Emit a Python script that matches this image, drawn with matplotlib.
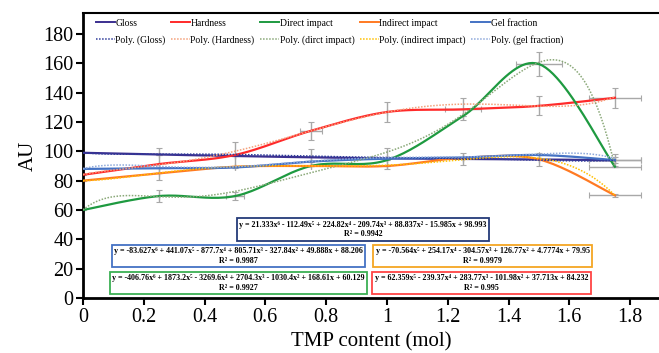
import numpy as np
import matplotlib
matplotlib.use("Agg")
import matplotlib.pyplot as plt
from matplotlib.lines import Line2D

plt.rcParams['font.family'] = ['Liberation Serif', 'DejaVu Serif']

# ---------------- data ----------------
tmp = [0, 0.25, 0.5, 0.75, 1.0, 1.25, 1.5, 1.75]
gloss = [99.0, 97.8, 96.8, 95.9, 95.2, 94.8, 94.5, 93.8]
hardness = [84.0, 91.3, 97.5, 114.0, 126.8, 128.6, 131.0, 136.5]
direct_impact = [60.0, 69.5, 69.5, 90.0, 94.0, 124.0, 159.5, 89.5]
indirect_impact = [80.0, 85.0, 89.5, 90.0, 90.0, 95.5, 94.5, 70.0]
gel_fraction = [88.0, 88.5, 89.0, 93.0, 95.0, 95.8, 97.5, 94.0]

gloss_yerr = [0, 0, 0, 5.5, 7, 4, 4.5, 2]
gloss_xerr = [0, 0, 0, 0, 0, 0, 0, 0.085]
hardness_yerr = [0, 11, 9, 6, 7, 7.5, 6.5, 7]
hardness_xerr = [0, 0, 0, 0.035, 0, 0.06, 0, 0.085]
direct_yerr = [0, 4, 3, 0, 0, 0, 8, 0]
direct_xerr = [0, 0, 0.03, 0, 0, 0, 0.075, 0.085]
indirect_yerr = [0, 0, 0, 0, 0, 0, 0, 1]
indirect_xerr = [0, 0, 0, 0, 0, 0, 0, 0.085]
gel_yerr = [0, 0, 0, 0, 0, 0, 0, 4]
gel_xerr = [0, 0, 0, 0, 0, 0, 0, 0.085]

# trendline coefficients (highest power first) as printed on the chart
coef_gloss = [21.333, -112.49, 224.82, -209.74, 88.837, -15.985, 98.993]
coef_gel = [-83.627, 441.07, -877.7, 805.71, -327.84, 49.888, 88.206]
coef_indirect = [-70.564, 254.17, -304.57, 126.77, 4.7774, 79.95]
coef_direct = [-406.76, 1873.2, -3269.6, 2704.3, -1030.4, 168.61, 60.129]
coef_hardness = [62.359, -239.37, 283.77, -101.98, 37.713, 84.232]

eq_gloss = "y = 21.333x⁶ - 112.49x⁵ + 224.82x⁴ - 209.74x³ + 88.837x² - 15.985x + 98.993\nR² = 0.9942"
eq_gel = "y = -83.627x⁶ + 441.07x⁵ - 877.7x⁴ + 805.71x³ - 327.84x² + 49.888x + 88.206\nR² = 0.9987"
eq_indirect = "y = -70.564x⁵ + 254.17x⁴ - 304.57x³ + 126.77x² + 4.7774x + 79.95\nR² = 0.9979"
eq_direct = "y = -406.76x⁶ + 1873.2x⁵ - 3269.6x⁴ + 2704.3x³ - 1030.4x² + 168.61x + 60.129\nR² = 0.9927"
eq_hardness = "y = 62.359x⁵ - 239.37x⁴ + 283.77x³ - 101.98x² + 37.713x + 84.232\nR² = 0.995"

x_ticks = [0, 0.2, 0.4, 0.6, 0.8, 1.0, 1.2, 1.4, 1.6, 1.8]
x_ticklabels = ["0", "0.2", "0.4", "0.6", "0.8", "1", "1.2", "1.4", "1.6", "1.8"]
y_ticks = [0, 20, 40, 60, 80, 100, 120, 140, 160, 180]

# ---------------- helpers ----------------
def smooth(x, y, n=24):
    """Catmull-Rom rendering of a line through the points (Excel-like smoothing)."""
    P = np.column_stack([x, y]).astype(float)
    P = np.vstack([P[0], P, P[-1]])
    out = []
    t = np.linspace(0, 1, n)[:, None]
    for i in range(1, len(P) - 2):
        p0, p1, p2, p3 = P[i - 1], P[i], P[i + 1], P[i + 2]
        seg = 0.5 * (2 * p1 + (-p0 + p2) * t + (2 * p0 - 5 * p1 + 4 * p2 - p3) * t ** 2
                     + (-p0 + 3 * p1 - 3 * p2 + p3) * t ** 3)
        out.append(seg if i == 1 else seg[1:])
    out = np.vstack(out)
    return out[:, 0], out[:, 1]

# ---------------- figure ----------------
fig = plt.figure(figsize=(6.59, 3.53), dpi=100)
ax = fig.add_axes([83 / 659, 55 / 353, 576 / 659, 285 / 353])
ax.set_xlim(0, 1.895)
ax.set_ylim(0, 194.3)

series = [
    ("Gloss", gloss, gloss_yerr, gloss_xerr, "#3B2F8F", coef_gloss, "#2F3C9A", "Poly. (Gloss)"),
    ("Hardness", hardness, hardness_yerr, hardness_xerr, "#FF2A2A", coef_hardness, "#F4A07A", "Poly. (Hardness)"),
    ("Direct impact", direct_impact, direct_yerr, direct_xerr, "#1E9A40", coef_direct, "#8AA878", "Poly. (dirct impact)"),
    ("Indirect impact", indirect_impact, indirect_yerr, indirect_xerr, "#FF7A22", coef_indirect, "#FFC000", "Poly. (indirect impact)"),
    ("Gel fraction", gel_fraction, gel_yerr, gel_xerr, "#4472C4", coef_gel, "#8EA9DB", "Poly. (gel fraction)"),
]

# error bars (grey, behind)
for name, ys, ye, xe, c, coef, pc, pname in series:
    ax.errorbar(tmp, ys, yerr=ye, xerr=xe, fmt="none", ecolor="#A8A8A8",
                elinewidth=1.0, capsize=2, capthick=0.8, zorder=1)

handles = []
xx = np.linspace(tmp[0], tmp[-1], 300)
for name, ys, ye, xe, c, coef, pc, pname in series:
    sx, sy = smooth(tmp, ys)
    ax.plot(sx, sy, color=c, lw=1.6, zorder=3)
    ax.plot(xx, np.polyval(coef, xx), color=pc, lw=1.1, ls=(0, (1, 1)), zorder=4)
    handles.append(Line2D([], [], color=c, lw=1.4, label=name))
    handles.append(Line2D([], [], color=pc, lw=1.1, ls=(0, (1, 1)), label=pname))

leg = ax.legend(handles=handles, ncol=5, loc="upper left", bbox_to_anchor=(0.012, 1.0),
                frameon=False, fontsize=6.9, handlelength=2.0, handletextpad=0.05,
                columnspacing=0.55, labelspacing=0.75, borderaxespad=0.2)

# equation boxes
boxes = [
    (eq_gloss, "#243A78", 363, 229.5),
    (eq_gel, "#4472C4", 238.5, 256),
    (eq_indirect, "#F5A623", 482.5, 256),
    (eq_direct, "#3CB054", 238.5, 283),
    (eq_hardness, "#FF4444", 481.5, 283),
]
for txt, ec, px, py in boxes:
    fig.text(px / 659, 1 - py / 353, txt, ha="center", va="center", fontsize=5.8,
             fontweight="bold", linespacing=1.2, zorder=10,
             bbox=dict(boxstyle="square,pad=0.3", fc="white", ec=ec, lw=1.3))

# axes styling
ax.set_xticks(x_ticks)
ax.set_xticklabels(x_ticklabels)
ax.set_yticks(y_ticks)
ax.tick_params(axis="both", direction="out", length=5, width=1.5, labelsize=14.5, pad=2, colors="black")
for s in ["left", "bottom"]:
    ax.spines[s].set_linewidth(2.0)
ax.spines["top"].set_linewidth(1.5)
ax.spines["right"].set_visible(False)

ax.set_xlabel("TMP content (mol)", fontsize=15, labelpad=4)
ax.set_ylabel("AU", fontsize=15, labelpad=4)

fig.savefig("out.png", dpi=100)
